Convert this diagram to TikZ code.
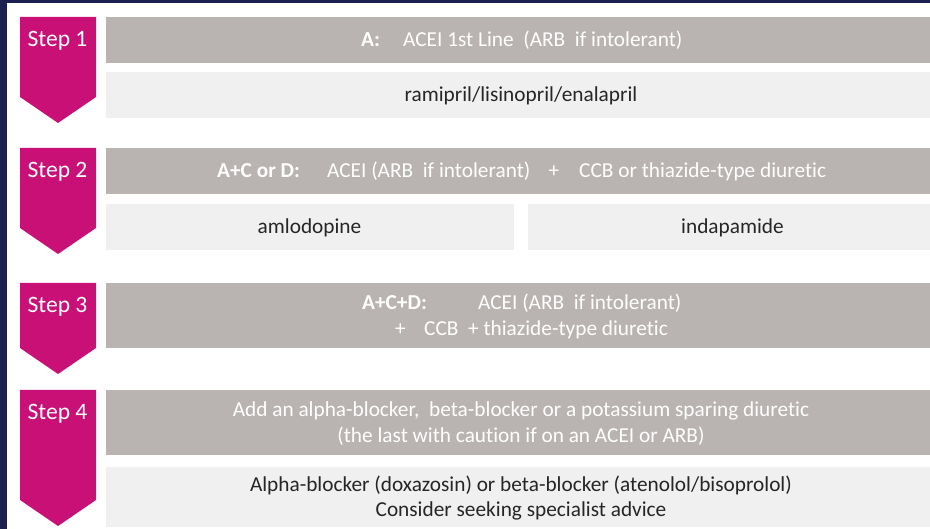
\documentclass[tikz,border=0pt]{standalone}
\usepackage{fontspec}
\setmainfont{Carlito}[Ligatures=NoCommon]
\usetikzlibrary{arrows.meta}
\pgfdeclarelayer{bg}
\pgfsetlayers{bg,main}
\definecolor{mag}{RGB}{200,16,118}
\definecolor{gbarc}{RGB}{185,180,177}
\definecolor{lbarc}{RGB}{240,240,240}
\definecolor{navyc}{RGB}{27,32,80}
\definecolor{darkt}{RGB}{38,38,38}
\tikzset{
  gbar/.style={fill=gbarc, draw=none, inner sep=0pt, minimum width=824pt},
  lbar/.style={fill=lbarc, draw=none, inner sep=0pt},
  steparrow/.style={fill=mag, draw=none},
  steptxt/.style={inner sep=0pt, anchor=base, text=white, font=\fontsize{23.5}{28}\selectfont},
  wtxt/.style={inner sep=0pt, anchor=base west, text=white, font=\fontsize{21.3}{26}\selectfont},
  wtxtc/.style={wtxt, anchor=base},
  btxt/.style={inner sep=0pt, anchor=base, text=darkt, font=\fontsize{21.3}{26}\selectfont},
  conn/.style={draw=navyc, line width=2.6pt, -{Triangle[width=15pt,length=16pt]}}
}
\begin{document}
\begin{tikzpicture}[x=1pt,y=-1pt]
\useasboundingbox (0,0) rectangle (930,529);
\fill[white] (0,0) rectangle (930,529);
\fill[navyc] (0,0) rectangle (7,529);
\fill[navyc] (0,0) rectangle (930,3);

% step arrows
\fill[steparrow] (20,17) -- (96,17) -- (96,97) -- (58,123) -- (20,97) -- cycle;
\fill[steparrow] (20,148) -- (96,148) -- (96,228) -- (58,254) -- (20,228) -- cycle;
\fill[steparrow] (20,283) -- (96,283) -- (96,348) -- (58,374) -- (20,348) -- cycle;
\fill[steparrow] (20,390) -- (96,390) -- (96,500) -- (58,526) -- (20,500) -- cycle;
\node[steptxt] (s1) at (57.5,47) {Step 1};
\node[steptxt] (s2) at (57.5,178) {Step 2};
\node[steptxt] (s3) at (57.5,313) {Step 3};
\node[steptxt] (s4) at (57.5,420) {Step 4};

% bars
\node[gbar, minimum height=46pt] (g1) at (518,40) {};
\node[lbar, minimum width=824pt, minimum height=46pt] (l1) at (518,95) {};
\node[gbar, minimum height=46pt] (g2) at (518,171) {};
\node[lbar, minimum width=408pt, minimum height=46pt] (l2a) at (310,227) {};
\node[lbar, minimum width=402pt, minimum height=46pt] (l2b) at (729,227) {};
\node[gbar, minimum height=65pt] (g3) at (518,315.5) {};
\node[gbar, minimum height=65pt] (g4) at (518,422.5) {};
\node[lbar, minimum width=824pt, minimum height=60pt] (l4) at (518,497) {};

% connectors
\coordinate (ax) at (519,0);
\begin{pgfonlayer}{bg}
\draw[conn] (g1.south -| ax) -- (g2.north -| ax);
\draw[conn] (g2.south -| ax) -- (g3.north -| ax);
\draw[conn] (g3.south -| ax) -- (g4.north -| ax);
\end{pgfonlayer}

% texts
\node[wtxt] (t1a) at (361,47) {\textbf{A:}};
\node[wtxt] (t1b) at (403,47) {ACEI 1st Line\ \ (ARB\ \ if intolerant)};
\node[btxt] (t1c) at (521,102) {ramipril/lisinopril/enalapril};

\node[wtxt] (t2a) at (217,178) {\textbf{A+C or D:}};
\node[wtxt] (t2b) at (327,178) {ACEI (ARB\ \ if intolerant)};
\node[wtxtc] (t2c) at (554,178) {+};
\node[wtxt] (t2d) at (579,178) {CCB or thiazide-type diuretic};
\node[btxt] (t2e) at (309.5,234) {amlodopine};
\node[btxt] (t2f) at (732.5,234) {indapamide};

\node[wtxt] (t3a) at (362,310) {\textbf{A+C+D:}};
\node[wtxt] (t3b) at (478,310) {ACEI (ARB\ \ if intolerant)};
\node[wtxt] (t3c) at (395,336) {+};
\node[wtxt] (t3d) at (424,336) {CCB\ \ + thiazide-type diuretic};

\node[wtxtc] (t4a) at (521,417) {Add an alpha-blocker,\ \ beta-blocker or a potassium sparing diuretic};
\node[wtxtc] (t4b) at (521,443) {(the last with caution if on an ACEI or ARB)};
\node[btxt] (t4c) at (521,491) {Alpha-blocker (doxazosin) or beta-blocker (atenolol/bisoprolol)};
\node[btxt] (t4d) at (521,516) {Consider seeking specialist advice};
\end{tikzpicture}
\end{document}
